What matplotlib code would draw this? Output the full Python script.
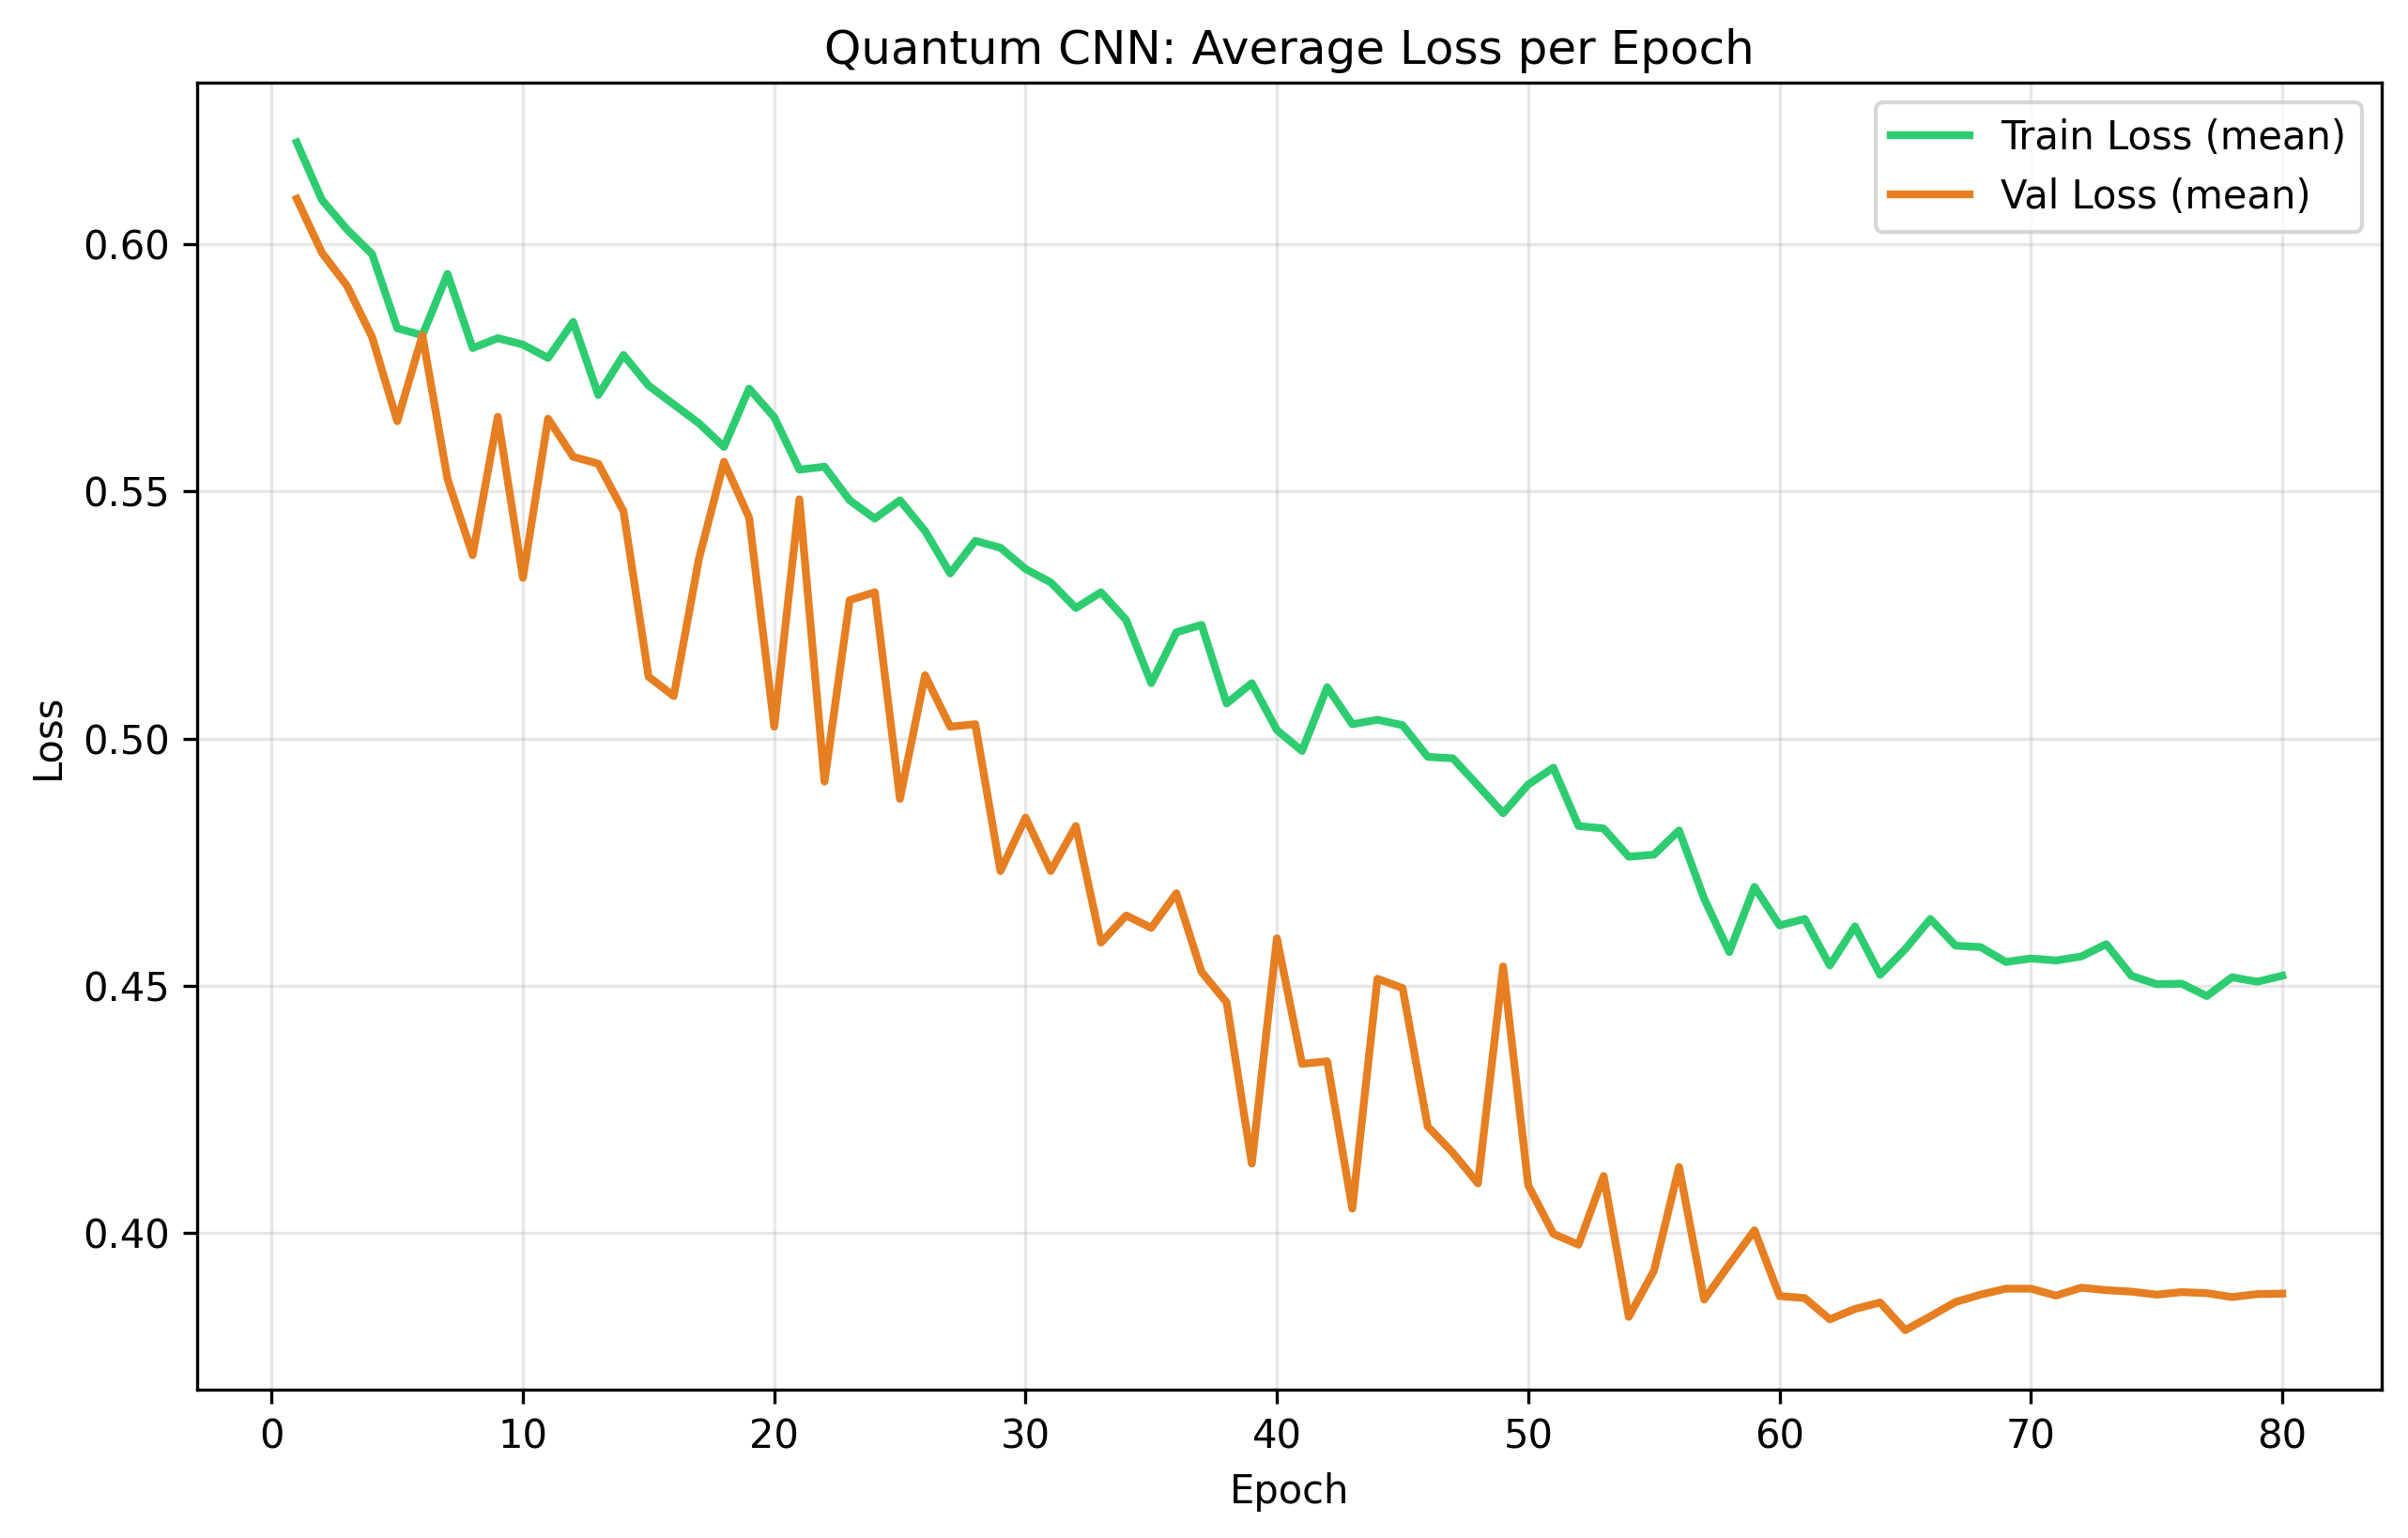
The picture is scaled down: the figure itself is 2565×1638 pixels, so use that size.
import matplotlib
matplotlib.use('Agg')
import matplotlib.pyplot as plt
import numpy as np

epochs = np.arange(1, 81)

train_loss = [0.6206, 0.609, 0.603, 0.598, 0.583, 0.5816, 0.594, 0.579, 0.581, 0.5797,
              0.577, 0.5843, 0.5695, 0.5776, 0.5714, 0.5676, 0.5638, 0.559, 0.5708, 0.5650,
              0.5544, 0.555, 0.5482, 0.5445, 0.5482, 0.542, 0.5334, 0.540, 0.5386, 0.5343,
              0.5316, 0.5264, 0.5296, 0.524, 0.5112, 0.5215, 0.523, 0.5071, 0.5112, 0.5017,
              0.4975, 0.5104, 0.5029, 0.5038, 0.5027, 0.4963, 0.496, 0.4905, 0.4849, 0.4907,
              0.4941, 0.4823, 0.4818, 0.4761, 0.4765, 0.4814, 0.4676, 0.4568, 0.470, 0.4622,
              0.4635, 0.4541, 0.462, 0.4522, 0.4574, 0.4635, 0.4581, 0.4578, 0.4548, 0.4555,
              0.4551, 0.4559, 0.4584, 0.452, 0.4503, 0.4504, 0.4479, 0.4517, 0.4508, 0.452]

val_loss = [0.6092, 0.5983, 0.5916, 0.5812, 0.5642, 0.5816, 0.5525, 0.5371, 0.5651, 0.5325,
            0.5647, 0.557, 0.5556, 0.546, 0.5125, 0.5086, 0.5363, 0.556, 0.5447, 0.5024,
            0.5484, 0.4913, 0.528, 0.5296, 0.4878, 0.5128, 0.5024, 0.5029, 0.4732, 0.484,
            0.4732, 0.4823, 0.4587, 0.4642, 0.4617, 0.4687, 0.4528, 0.4466, 0.414, 0.4596,
            0.4342, 0.4347, 0.4049, 0.4514, 0.4495, 0.4215, 0.4162, 0.410, 0.4539, 0.4096,
            0.3998, 0.3976, 0.4115, 0.383, 0.3923, 0.4133, 0.3865, 0.3936, 0.4005, 0.3872,
            0.3868, 0.3825, 0.3846, 0.3859, 0.3803, 0.3831, 0.386, 0.3875, 0.3887, 0.3887,
            0.3873, 0.3889, 0.3884, 0.3881, 0.3875, 0.388, 0.3878, 0.387, 0.3876, 0.3877]

fig, ax = plt.subplots(figsize=(8.55, 5.46), dpi=300)
ax.plot(epochs, train_loss, color='#2ecc71', lw=2, label='Train Loss (mean)')
ax.plot(epochs, val_loss, color='#e67e22', lw=2, label='Val Loss (mean)')
ax.set_title('Quantum CNN: Average Loss per Epoch', fontsize=12, pad=4.8)
ax.set_xlabel('Epoch')
ax.set_ylabel('Loss')
ax.grid(alpha=0.3)
ax.legend(loc='upper right')

fig.subplots_adjust(left=0.082, right=0.989, top=0.946, bottom=0.0965)
fig.savefig('out.png', dpi=300)
